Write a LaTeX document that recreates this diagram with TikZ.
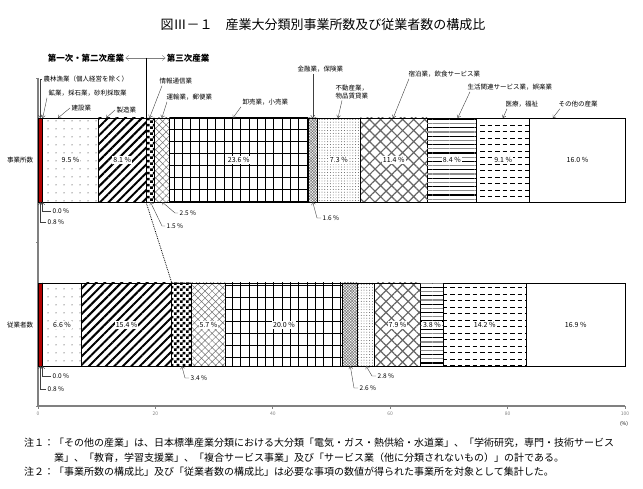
\documentclass[tikz,border=0pt]{standalone}
\usepackage{fontspec}
\newfontfamily\jp{Noto Sans CJK JP}
\usetikzlibrary{patterns}
\usetikzlibrary{patterns.meta}
\usetikzlibrary{arrows.meta}

\pgfdeclarepatternformonly{checks}{\pgfpointorigin}{\pgfqpoint{6pt}{6pt}}{\pgfqpoint{6pt}{6pt}}{%
  \pgfpathrectangle{\pgfpointorigin}{\pgfqpoint{3pt}{3pt}}%
  \pgfpathrectangle{\pgfqpoint{3pt}{3pt}}{\pgfqpoint{3pt}{3pt}}%
  \pgfusepath{fill}}
\pgfdeclarepatternformonly{dashlines}{\pgfqpoint{-1pt}{-1pt}}{\pgfqpoint{9pt}{8pt}}{\pgfqpoint{7.5pt}{6.5pt}}{%
  \pgfsetlinewidth{0.8pt}%
  \pgfpathmoveto{\pgfpointorigin}\pgfpathlineto{\pgfqpoint{4.5pt}{0pt}}%
  \pgfusepath{stroke}}

\tikzset{
  lbl/.style = {font = \jp\fontsize{6.5}{7.5}\selectfont, inner sep = 1.5pt},
  pct/.style = {lbl, font = \jp\fontsize{7}{8}\selectfont, fill = white, inner sep = 1pt},
  tick/.style = {font = \jp\fontsize{5}{6}\selectfont, inner sep = 2pt},
  head/.style = {font = \jp\bfseries\fontsize{8.5}{10}\selectfont, inner sep = 1pt},
  note/.style = {font = \jp\fontsize{10}{12}\selectfont, inner sep = 0pt},
  lead/.style = {line width = 0.4pt, black!75, -{Straight Barb[length = 2.5pt, width = 4pt]}},
  axisline/.style = {black!50, line width = 1.5pt},
  seg/.style = {draw, line width = 0.9pt},
  agri/.style = {fill = red!70!black},
  mine/.style = {},
  cons/.style = {pattern = {Dots[distance = 8pt, radius = 0.5pt]}},
  manu/.style = {pattern = {Lines[angle = 45, distance = 6pt, line width = 2pt]}},
  info/.style = {pattern = checks},
  trans/.style = {pattern = {Hatch[angle = 45, distance = 5pt, line width = 0.5pt]}, pattern color = black!55},
  trade/.style = {pattern = {Lines[angle = 90, distance = 8.3pt, line width = 0.9pt]},
    postaction = {pattern = {Lines[distance = 12pt, line width = 0.9pt]}}},
  fin/.style = {pattern = {Hatch[angle = 45, distance = 2pt, line width = 0.5pt]}, pattern color = black!55},
  estate/.style = {pattern = {Dots[distance = 2.8pt, radius = 0.45pt]}, pattern color = black!75},
  hotel/.style = {pattern = {Hatch[angle = 45, distance = 7.8pt, line width = 1.2pt]}, pattern color = black!60},
  life/.style = {pattern = {Lines[distance = 8.4pt, line width = 1.2pt]},
    postaction = {pattern = {Lines[distance = 8.4pt, yshift = 4.2pt, line width = 1.2pt]}, pattern color = black!45}},
  med/.style = {pattern = dashlines},
  other/.style = {fill = white}
}

\begin{document}
\begin{tikzpicture}[x = 1pt, y = -1pt]
  \useasboundingbox (0, 0) rectangle (643, 489);

  \node[font = \jp\fontsize{13}{15}\selectfont] (title) at (323, 25)
    {図Ⅲ－１\hspace{1em}産業大分類別事業所数及び従業者数の構成比};

  % axes
  \draw[axisline] (38, 78) -- (38, 406) -- (625, 406);
  \foreach \y in {78, 242, 406}
    \draw[black!50, line width = 0.8pt] (38, \y) -- (36, \y);

  \begin{scope}[shift = {(38, 0)}, x = 5.87pt]
    \foreach \t in {0, 20, ..., 100}
      \draw[black!50, line width = 0.8pt] (\t, 406) -- (\t, 409)
        node[tick, below] (x\t) {\t};

    % establishments
    \foreach \w/\s/\v [count = \i, evaluate = \w as \b using \a + \w,
        remember = \b as \a (initially 0)] in {0.8/agri/0.8, 0.0/mine/0.0,
        9.5/cons/9.5, 8.1/manu/8.1, 1.5/info/1.5, 2.5/trans/2.5,
        23.6/trade/23.6, 1.6/fin/1.6, 7.3/estate/7.3, 11.4/hotel/11.4,
        8.4/life/8.4, 9.1/med/9.1, 16.2/other/16.0} {
      \draw[seg, \s] (\a, 118) rectangle (\b, 202);
      \ifdim\w pt>3.6pt \node[pct] (e\i) at ({(\a + \b)/2}, 160) {\v~\%}; \fi
    }

    % employees
    \foreach \w/\s/\v [count = \i, evaluate = \w as \b using \a + \w,
        remember = \b as \a (initially 0)] in {0.8/agri/0.8, 0.0/mine/0.0,
        6.6/cons/6.6, 15.4/manu/15.4, 3.4/info/3.4, 5.7/trans/5.7,
        20.0/trade/20.0, 2.6/fin/2.6, 2.8/estate/2.8, 7.9/hotel/7.9,
        3.8/life/3.8, 14.2/med/14.2, 16.8/other/16.9} {
      \draw[seg, \s] (\a, 283) rectangle (\b, 366);
      \ifdim\w pt>3.6pt \node[pct] (w\i) at ({(\a + \b)/2}, 325) {\v~\%}; \fi
    }

    \coordinate (split0) at (18.4, 58);
    \coordinate (split1) at (18.4, 118);
    \coordinate (split2) at (18.4, 202);
    \coordinate (split3) at (22.8, 283);

    \foreach \n/\x in {agri/0.4, mine/0.8, cons/3.4, manu/11.6, info/19.0,
        trans/21.1, trade/33.2, fin/46.8, estate/51.1, hotel/60.5, life/71.5,
        med/79.2, other/87.7}
      \coordinate (to-\n) at (\x, 118);
    \foreach \n/\x in {agri/0.4, mine/0.8, info/19.15, trans/21.15, fin/46.8}
      \coordinate (pt-\n) at (\x, 202);
    \foreach \n/\x in {agri/0.4, mine/0.8, info/24.5, fin/53.2, estate/55.9}
      \coordinate (pb-\n) at (\x, 366);
  \end{scope}

  \node[tick] (unit) at (624, 424) {(\%)};
  \node[lbl] (rowE) at (20, 160) {事業所数};
  \node[lbl] (rowW) at (20, 325) {従業者数};

  % sectors
  \node[head] (sec12) at (86, 58) {第一次・第二次産業};
  \node[head] (sec3) at (188, 58) {第三次産業};
  \draw[black!50, {Straight Barb[length = 3pt, width = 5pt]}-{Straight Barb[length = 3pt, width = 5pt]}]
    (sec12) -- (sec3);
  \draw[line width = 0.6pt] (split0) -- (split1);
  \draw[densely dotted, line width = 0.8pt] (split2) -- (split3);

  % industry names
  \node[lbl, anchor = west] (agri) at (42, 79) {農林漁業（個人経営を除く）};
  \node[lbl, anchor = west] (mine) at (47, 93) {鉱業，採石業，砂利採取業};
  \node[lbl, anchor = west] (cons) at (70, 108) {建設業};
  \node[lbl, anchor = west] (manu) at (115, 110) {製造業};
  \node[lbl, anchor = west] (info) at (158, 81) {情報通信業};
  \node[lbl, anchor = west] (trans) at (165, 97) {運輸業，郵便業};
  \node[lbl, anchor = west] (trade) at (241, 102) {卸売業，小売業};
  \node[lbl, anchor = west] (fin) at (296, 69) {金融業，保険業};
  \node[lbl, anchor = west, align = left] (estate) at (334, 92) {不動産業，\\物品賃貸業};
  \node[lbl, anchor = west] (hotel) at (407, 74) {宿泊業，飲食サービス業};
  \node[lbl, anchor = west] (life) at (466, 87) {生活関連サービス業，娯楽業};
  \node[lbl, anchor = west] (med) at (504, 104) {医療，福祉};
  \node[lbl, anchor = west] (other) at (557, 104) {その他の産業};

  \draw[lead] (agri.west) -| (to-agri);
  \draw[lead] (mine.south west) -- (to-mine);
  \draw[lead] (cons.west) -- (to-cons);
  \draw[lead] (manu.west) -- (to-manu);
  \draw[lead] ([xshift = 4pt]info.south west) -- (to-info);
  \draw[lead] ([xshift = 2pt]trans.south west) -- (to-trans);
  \draw[lead] (trade.south west) -- (to-trade);
  \draw[lead] (fin.south -| to-fin) -- (to-fin);
  \draw[lead] ([xshift = 8pt]estate.south west) -- (to-estate);
  \draw[lead] ([xshift = 2pt]hotel.south west) -- (to-hotel);
  \draw[lead] ([xshift = 4pt]life.south west) -- (to-life);
  \draw[lead] ([xshift = 3pt]med.south west) -- (to-med);
  \draw[lead] ([xshift = 3pt]other.south west) -- (to-other);

  % small shares
  \node[lbl, anchor = west] (p1) at (51, 211) {0.0~\%};
  \node[lbl, anchor = west] (p2) at (46, 222) {0.8~\%};
  \node[lbl, anchor = west] (p3) at (165, 226) {1.5~\%};
  \node[lbl, anchor = west] (p4) at (178, 213) {2.5~\%};
  \node[lbl, anchor = west] (p5) at (321, 218) {1.6~\%};
  \draw[lead] (p1.west) -| (pt-mine);
  \draw[lead] (p2.west) -| (pt-agri);
  \draw[lead] (p3.west) -- ++(-3, 0) -- (pt-info);
  \draw[lead] (p4.west) -- ++(-3, 0) -- (pt-trans);
  \draw[lead] (p5.west) -- ++(-4, 0) -- (pt-fin);

  \node[lbl, anchor = west] (q1) at (51, 376) {0.0~\%};
  \node[lbl, anchor = west] (q2) at (46, 389) {0.8~\%};
  \node[lbl, anchor = west] (q3) at (189, 378) {3.4~\%};
  \node[lbl, anchor = west] (q4) at (358, 388) {2.6~\%};
  \node[lbl, anchor = west] (q5) at (376, 376) {2.8~\%};
  \draw[lead] (q1.west) -| (pb-mine);
  \draw[lead] (q2.west) -| (pb-agri);
  \draw[lead] (q3.west) -- ++(-4, 0) -- (pb-info);
  \draw[lead] (q4.west) -- ++(-4, 0) -- (pb-fin);
  \draw[lead] (q5.west) -- ++(-4, 0) -- (pb-estate);

  % notes
  \node[note, anchor = west] (n1) at (24, 443)
    {注１：「その他の産業」は、日本標準産業分類における大分類「電気・ガス・熱供給・水道業」、「学術研究，専門・技術サービス};
  \node[note, anchor = west] (n1b) at (54, 458)
    {業」、「教育，学習支援業」、「複合サービス事業」及び「サービス業（他に分類されないもの）」の計である。};
  \node[note, anchor = west] (n2) at (24, 472)
    {注２：「事業所数の構成比」及び「従業者数の構成比」は必要な事項の数値が得られた事業所を対象として集計した。};
\end{tikzpicture}
\end{document}
